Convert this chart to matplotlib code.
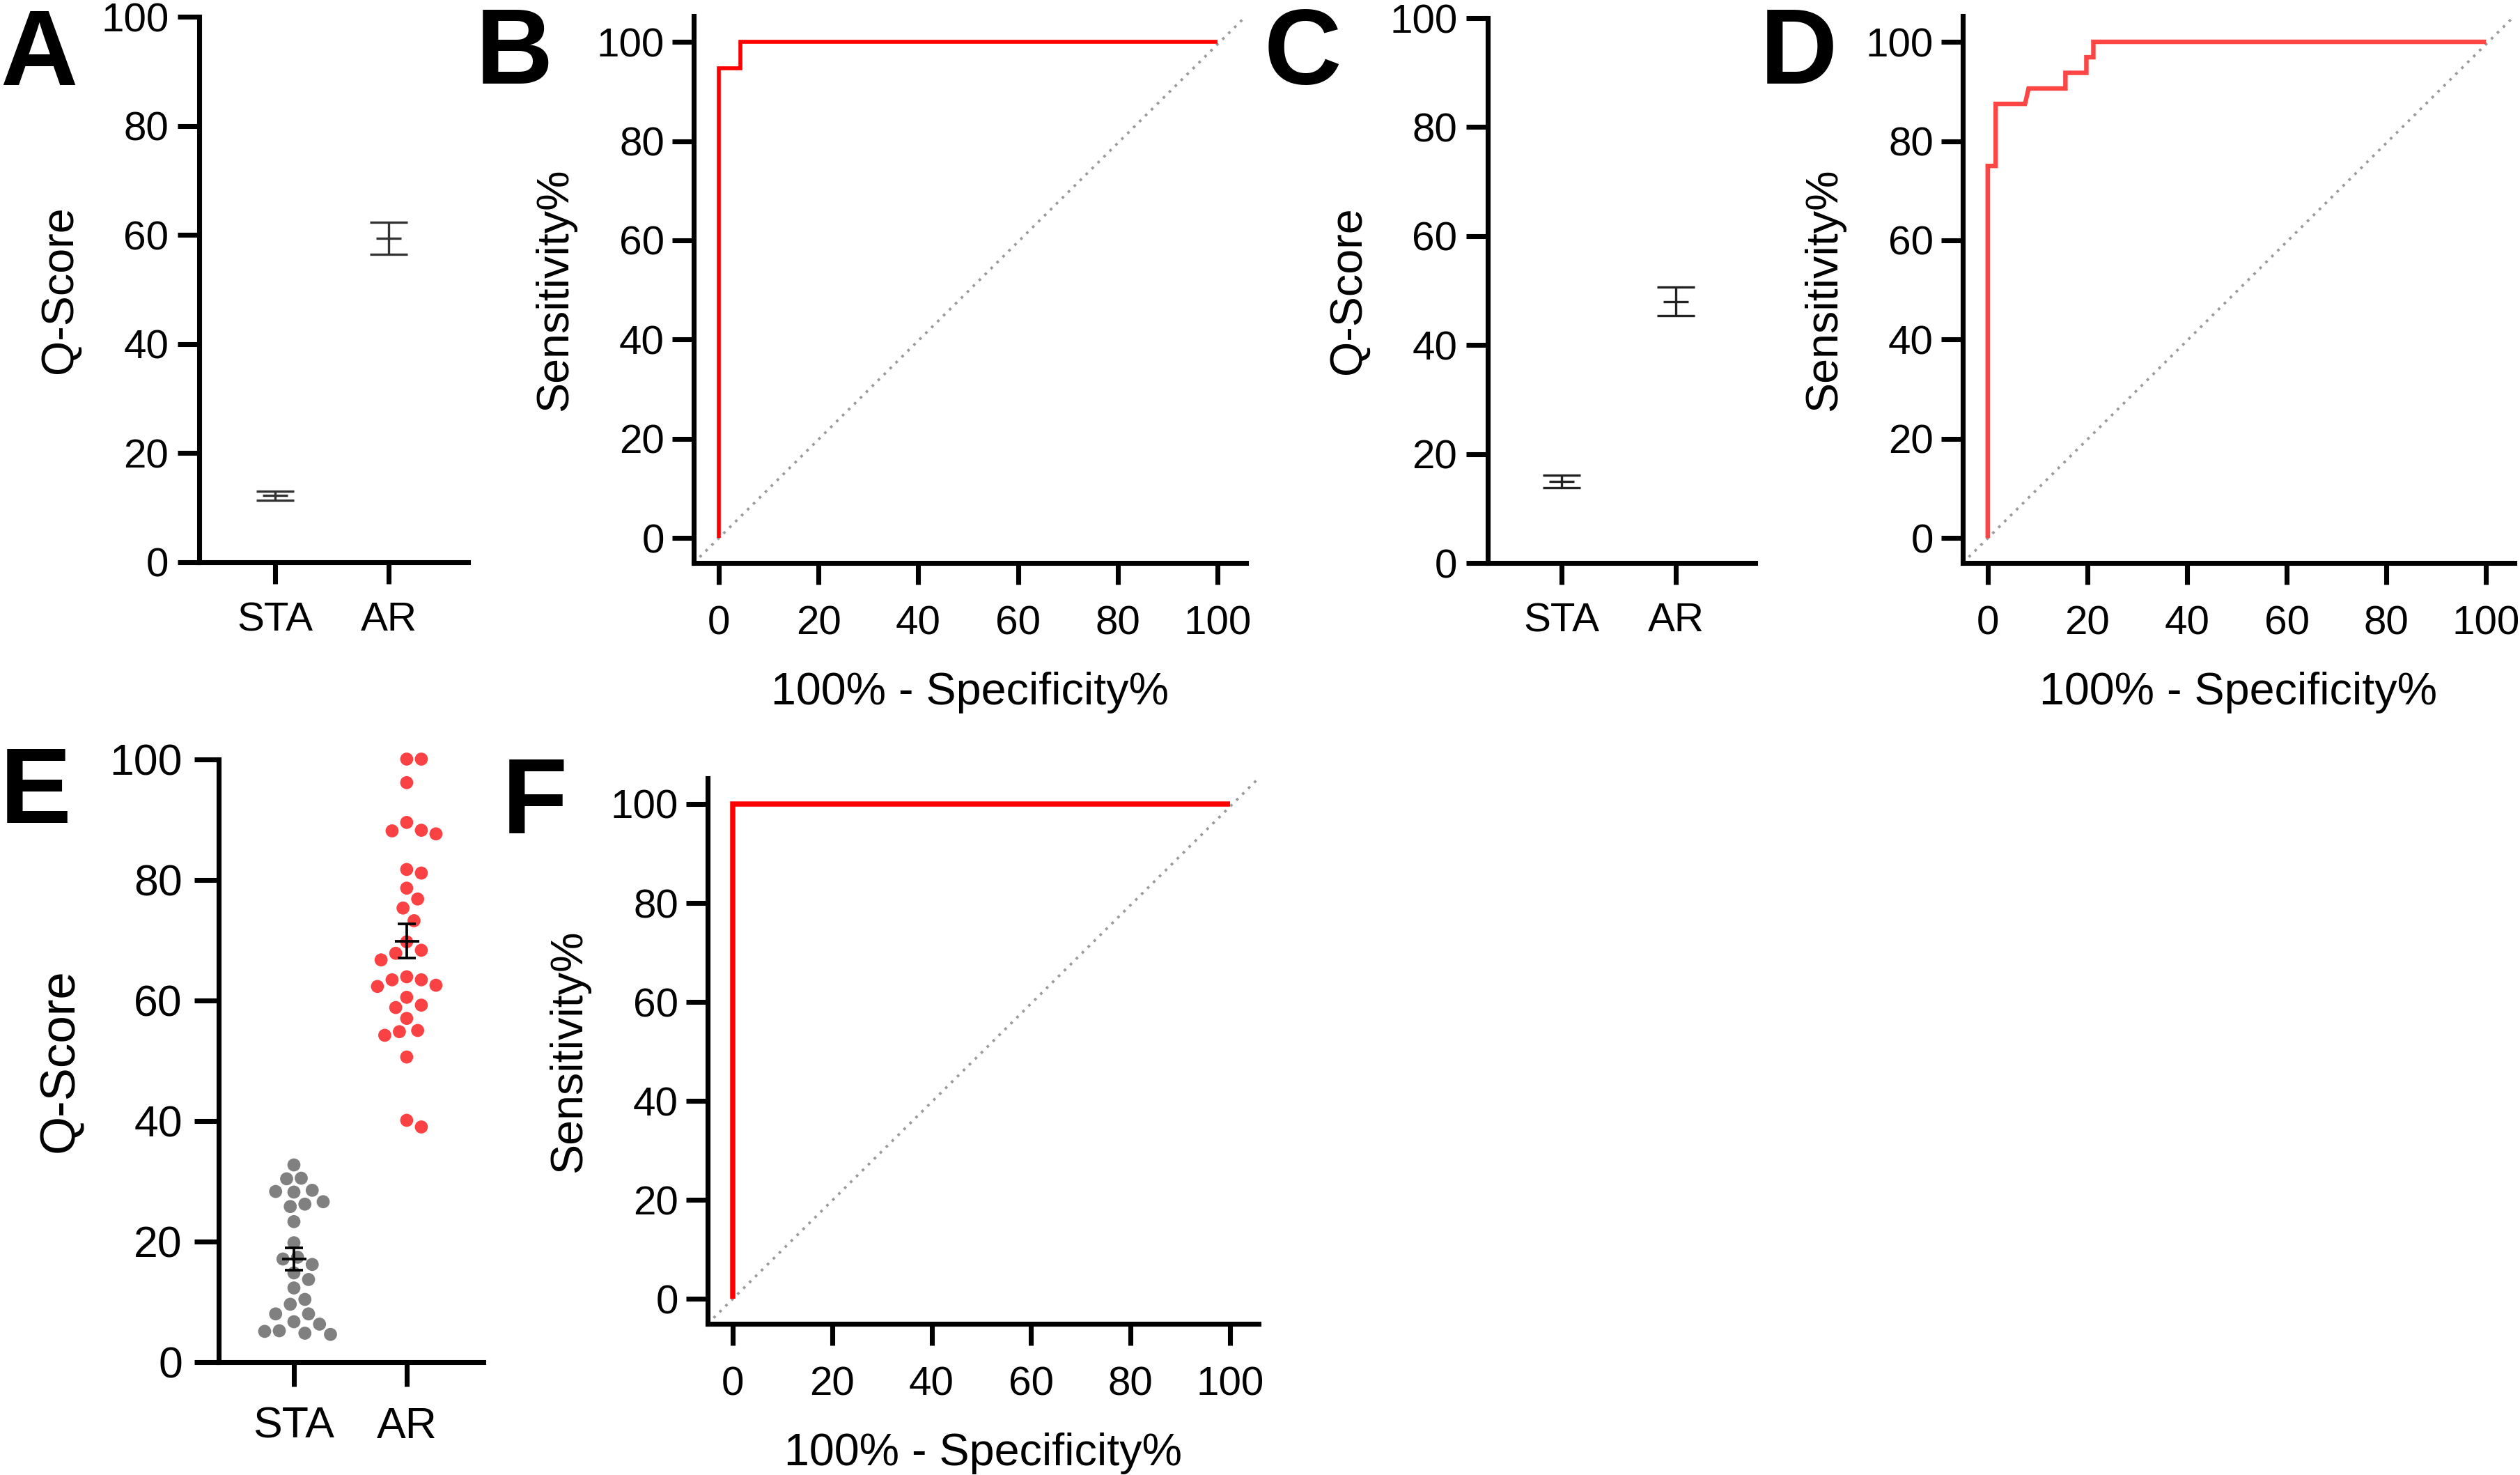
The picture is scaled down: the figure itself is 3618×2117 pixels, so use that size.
import matplotlib
matplotlib.use('Agg')
import matplotlib.pyplot as plt
import numpy as np

plt.rcParams['font.family'] = ['Liberation Sans', 'DejaVu Sans']

W, H = 3618, 2117

groups = ['STA', 'AR']
score_ticks = [0, 20, 40, 60, 80, 100]
roc_ticks = [0, 20, 40, 60, 80, 100]

# panels A and C: mean +- SEM of Q-Score
a_mean = [12.2, 59.4]
a_sem = [0.8, 2.9]
c_mean = [15.0, 48.0]
c_sem = [1.15, 2.6]

# panel E: individual Q-Scores
e_sta = [32.7, 30.5, 30.4, 28.2, 28.5, 28.3, 26.6, 25.8, 26.2, 23.3, 19.8,
         17.4, 17.1, 16.2, 14.8, 13.7, 12.3, 10.4, 9.6, 8.0, 8.0, 6.7, 6.3,
         4.8, 5.1, 4.6, 5.2]
e_ar = [100, 100, 96.1, 89.5, 88.1, 87.6, 88.2, 81.1, 81.7, 78.6, 76.8, 75.3,
        73.2, 69.7, 67.8, 68.3, 66.7, 63.4, 62.3, 62.5, 63.9, 63.4, 60.5, 58.8,
        59.2, 57.0, 55.0, 54.2, 54.8, 50.6, 39.0, 40.1]

# ROC curves: 100% - specificity%, sensitivity%
b_fpr = [0, 0, 4.3, 4.3, 100]
b_tpr = [0, 94.7, 94.7, 100, 100]
d_fpr = [0, 0, 1.6, 1.6, 7.5, 8.2, 15.6, 15.6, 19.8, 19.8, 21.2, 21.2, 100]
d_tpr = [0, 75, 75, 87.5, 87.5, 90.6, 90.6, 93.75, 93.75, 96.9, 96.9, 100, 100]
f_fpr = [0, 0, 100]
f_tpr = [0, 100, 100]

fig = plt.figure(figsize=(W / 300, H / 300), dpi=300)


def px_axes(x0, y0, x1, y1):
    return fig.add_axes([x0 / W, 1 - y1 / H, (x1 - x0) / W, (y1 - y0) / H])


def style(ax, fs=14, tl=7.5):
    for s in ['top', 'right']:
        ax.spines[s].set_visible(False)
    for s in ['left', 'bottom']:
        ax.spines[s].set_linewidth(1.7)
    ax.tick_params(width=1.7, length=tl, labelsize=fs, direction='out')
    ax.tick_params(axis='y', pad=3)


def score_axes(ax, xlim, fs=14, lfs=15.5, tl=7.5, lpad=7):
    style(ax, fs, tl)
    ax.set_xlim(*xlim)
    ax.set_ylim(0, 100)
    ax.set_yticks(score_ticks)
    ax.set_xticks(np.arange(len(groups)))
    ax.set_xticklabels(groups)
    ax.tick_params(axis='x', pad=6)
    ax.set_ylabel('Q-Score', fontsize=lfs, labelpad=lpad)


def mean_sem(ax, means, sems, color, lw, cap, mw):
    x = np.arange(len(means))
    ax.errorbar(x, means, yerr=sems, fmt='none', ecolor=color, elinewidth=lw,
                capsize=cap, capthick=lw, zorder=3, clip_on=False)
    ax.plot(x, means, ls='none', marker='_', ms=mw, mew=lw, color=color,
            zorder=3, clip_on=False)


def roc_axes(ax, fpr, tpr, color, lw):
    style(ax)
    xl = (-5, 105.7)
    yl = (-5, 105.2)
    ax.plot(xl, yl, color='#9a9a9a', lw=0.9, ls=(0, (1, 2.2)), clip_on=False)
    ax.plot(fpr, tpr, color=color, lw=lw, solid_joinstyle='miter',
            solid_capstyle='butt', clip_on=False, zorder=3)
    ax.set_xlim(*xl)
    ax.set_ylim(*yl)
    ax.set_xticks(roc_ticks)
    ax.set_yticks(roc_ticks)
    ax.tick_params(axis='x', pad=7)
    ax.tick_params(axis='y', pad=2.6)
    ax.set_xlabel('100% - Specificity%', fontsize=15.5, labelpad=10)
    ax.set_ylabel('Sensitivity%', fontsize=15.5, labelpad=7)


def swarm_offsets(vals, diam, xscale, yscale):
    # simple beeswarm in pixel space, returns offsets in data units
    vals = np.asarray(vals, dtype=float)
    placed = []
    res = np.zeros(len(vals))
    step = diam * 0.25
    for i in np.argsort(-vals, kind='stable'):
        y = vals[i] * yscale
        k = 0
        found = None
        while found is None:
            cands = [0.0] if k == 0 else [k * step, -k * step]
            for x in cands:
                if all((x - px) ** 2 + (y - py) ** 2 >= diam ** 2 for px, py in placed):
                    found = x
                    break
            k += 1
        placed.append((found, y))
        res[i] = found / xscale
    return res


# ---- A ----
axA = px_axes(286, 24, 672, 807)
score_axes(axA, (-0.67, 1.70))
mean_sem(axA, a_mean, a_sem, '#333333', 0.8, 6.4, 8.6)

# ---- B ----
axB = px_axes(996, 23, 1789, 808)
roc_axes(axB, b_fpr, b_tpr, '#ff0000', 1.35)

# ---- C ----
axC = px_axes(2136, 26, 2520, 808)
score_axes(axC, (-0.646, 1.695))
mean_sem(axC, c_mean, c_sem, '#222222', 0.8, 6.4, 8.6)

# ---- D ----
axD = px_axes(2818, 23, 3610, 808)
roc_axes(axD, d_fpr, d_tpr, '#fc4646', 1.55)

# ---- E ----
e_x0, e_x1, e_y0, e_y1 = 314, 694, 1089.5, 1955
axE = px_axes(e_x0, e_y0, e_x1, e_y1)
e_xlim = (-0.667, 1.68)
score_axes(axE, e_xlim, fs=15, lfs=17, tl=8.5, lpad=9)
axE.tick_params(axis='y', pad=4)
axE.tick_params(axis='x', pad=6.5)
xs = (e_x1 - e_x0) / (e_xlim[1] - e_xlim[0])
ys = (e_y1 - e_y0) / 100.0
off_sta = swarm_offsets(e_sta, 21, xs, ys)
off_ar = swarm_offsets(e_ar, 21, xs, ys)
axE.scatter(0 + off_sta, e_sta, s=4.5 ** 2, color='#808080', edgecolors='none',
            zorder=2, clip_on=False)
axE.scatter(1 + off_ar, e_ar, s=4.5 ** 2, color='#fa4245', edgecolors='none',
            zorder=2, clip_on=False)
e_mean = [np.mean(e_sta), np.mean(e_ar)]
e_sem = [np.std(e_sta, ddof=1) / np.sqrt(len(e_sta)),
         np.std(e_ar, ddof=1) / np.sqrt(len(e_ar))]
mean_sem(axE, e_mean, e_sem, '#000000', 0.9, 3.2, 8.4)

# ---- F ----
axF = px_axes(1016, 1117, 1807, 1900)
roc_axes(axF, f_fpr, f_tpr, '#ff0000', 1.8)

# panel letters
letters = [('A', 0, 122), ('B', 683, 120), ('C', 1815, 121), ('D', 2527, 120),
           ('E', 0, 1181), ('F', 721, 1196)]
for t, x, y in letters:
    fig.text(x / W, 1 - y / H, t, fontsize=37, fontweight='bold',
             ha='left', va='baseline')

fig.savefig('out.png', dpi=300)
